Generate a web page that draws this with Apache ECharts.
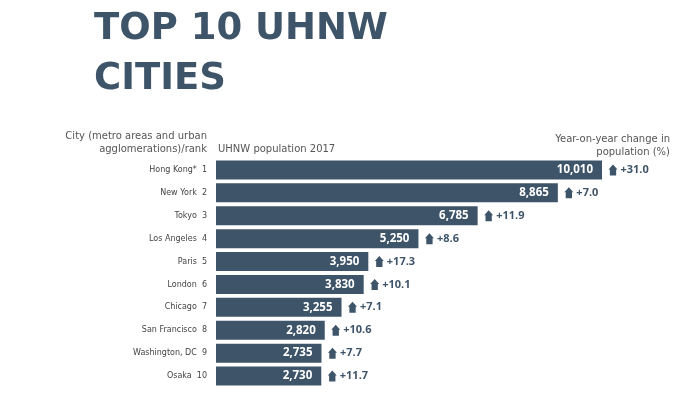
<!DOCTYPE html>
<html>
<head>
<meta charset="utf-8">
<script src="https://cdn.jsdelivr.net/npm/echarts@6/dist/echarts.min.js"></script>
<style>
  html, body { margin: 0; padding: 0; background: #fff; }
  #chart { width: 700px; height: 396px; }
</style>
</head>
<body>
<div id="chart"></div>
<script>
const cities = ['Hong Kong*', 'New York', 'Tokyo', 'Los Angeles', 'Paris', 'London', 'Chicago', 'San Francisco', 'Washington, DC', 'Osaka'];
const ranks = [1, 2, 3, 4, 5, 6, 7, 8, 9, 10];
const population = [10010, 8865, 6785, 5250, 3950, 3830, 3255, 2820, 2735, 2730];
const change = [31.0, 7.0, 11.9, 8.6, 17.3, 10.1, 7.1, 10.6, 7.7, 11.7];

const navy = '#3e5469';
const labels = cities.map((c, i) => c + '  ' + ranks[i]);

const chart = echarts.init(document.getElementById('chart'));

const option = {
  backgroundColor: '#fff',
  animation: false,
  grid: { left: 216, top: 158.5, width: 386, height: 229 },
  xAxis: {
    type: 'value',
    min: 0,
    max: 10010,
    show: false
  },
  yAxis: {
    type: 'category',
    inverse: true,
    data: labels,
    axisLine: { show: false },
    axisTick: { show: false },
    axisLabel: {
      margin: 9,
      fontFamily: 'DejaVu Sans',
      fontSize: 8,
      color: '#444'
    }
  },
  series: [
    {
      type: 'bar',
      data: population,
      barWidth: 19,
      itemStyle: { color: navy },
      label: {
        show: true,
        position: 'insideRight',
        distance: 9,
        color: '#fff',
        fontFamily: 'Open Sans',
        fontWeight: 'bold',
        fontSize: 11.5,
        formatter: p => p.value.toLocaleString('en-US')
      }
    },
    {
      // up arrow + yoy change
      type: 'scatter',
      data: population.map((v, i) => [v, i]),
      symbol: 'path://M5,0 L10,5 L8.5,5 L8.5,11 L1.5,11 L1.5,5 L0,5 Z',
      symbolSize: [9, 11],
      symbolOffset: [11, 0],
      itemStyle: { color: navy, opacity: 1 },
      label: {
        show: true,
        position: 'right',
        distance: 3,
        color: navy,
        fontFamily: 'Open Sans',
        fontWeight: 'bold',
        fontSize: 11,
        formatter: p => '+' + change[p.dataIndex].toFixed(1)
      }
    }
  ],
  graphic: [
    { type: 'text', left: 94, top: 11, style: { text: 'TOP 10 UHNW', font: 'bold 37px "DejaVu Sans"', fill: navy } },
    { type: 'text', left: 94, top: 61, style: { text: 'CITIES', font: 'bold 37px "DejaVu Sans"', fill: navy } },
    { type: 'text', right: 493, top: 131, style: { text: 'City (metro areas and urban', font: '10px "DejaVu Sans"', fill: '#555', align: 'right' } },
    { type: 'text', right: 493, top: 144, style: { text: 'agglomerations)/rank', font: '10px "DejaVu Sans"', fill: '#555', align: 'right' } },
    { type: 'text', left: 218, top: 144, style: { text: 'UHNW population 2017', font: '10px "DejaVu Sans"', fill: '#555' } },
    { type: 'text', right: 30, top: 134, style: { text: 'Year-on-year change in', font: '10px "DejaVu Sans"', fill: '#555', align: 'right' } },
    { type: 'text', right: 30, top: 147, style: { text: 'population (%)', font: '10px "DejaVu Sans"', fill: '#555', align: 'right' } }
  ]
};

chart.setOption(option);
</script>
</body>
</html>
